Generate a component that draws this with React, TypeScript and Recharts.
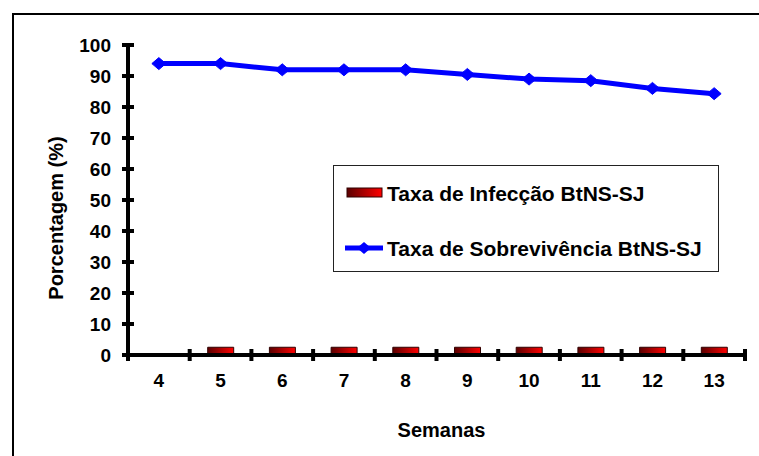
import React from 'react';
import { ComposedChart, Bar, Line, XAxis, YAxis, Legend } from 'recharts';

const weeks = ['4', '5', '6', '7', '8', '9', '10', '11', '12', '13'];
const infectionRate = [null, 2.5, 2.5, 2.5, 2.5, 2.5, 2.5, 2.5, 2.5, 2.5];
const survivalRate = [94, 94, 92, 92, 92, 90.5, 89, 88.5, 86, 84.3];
const yTicks = [0, 10, 20, 30, 40, 50, 60, 70, 80, 90, 100];

const infectionName = 'Taxa de Infecção BtNS-SJ';
const survivalName = 'Taxa de Sobrevivência BtNS-SJ';
const xTitle = 'Semanas';
const yTitle = 'Porcentagem (%)';

const data = weeks.map((w, i) => ({
  week: w,
  infection: infectionRate[i],
  survival: survivalRate[i],
}));

const FONT = '"Liberation Sans", Arial, sans-serif';
const CHART_W = 751;
const CHART_H = 448;
const Y_W = 120;
const M_R = 14;
const BAND = (CHART_W - Y_W - M_R) / weeks.length;

const YTick = (props: any) => {
  const { x, y, payload } = props;
  return (
    <g>
      <line x1={x - 6} x2={x + 6} y1={y} y2={y} stroke="#000" strokeWidth={4} />
      <text x={x - 17} y={y} dy="0.36em" textAnchor="end" fontFamily={FONT} fontWeight="bold" fontSize={19} fill="#000">
        {payload.value}
      </text>
    </g>
  );
};

const XTick = (props: any) => {
  const { x, y, payload, index, visibleTicksCount, width } = props;
  const band = width && visibleTicksCount ? width / visibleTicksCount : BAND;
  const half = band / 2;
  const last = index === (visibleTicksCount || weeks.length) - 1;
  return (
    <g>
      <line x1={x - half} x2={x - half} y1={y - 6} y2={y + 6} stroke="#000" strokeWidth={4} />
      {last && <line x1={x + half} x2={x + half} y1={y - 6} y2={y + 6} stroke="#000" strokeWidth={4} />}
      <text x={x} y={y + 32} textAnchor="middle" fontFamily={FONT} fontWeight="bold" fontSize={19} fill="#000">
        {payload.value}
      </text>
    </g>
  );
};

const Diamond = (props: any) => {
  const { cx, cy } = props;
  if (cx == null || cy == null) return null;
  return <polygon points={`${cx - 7},${cy} ${cx},${cy - 6} ${cx + 7},${cy} ${cx},${cy + 6}`} fill="#0000FF" stroke="#0000FF" strokeWidth={1} />;
};

const YLabel = (props: any) => {
  const vb = props.viewBox || {};
  const cx = (vb.x || 0) + 48;
  const cy = (vb.y || 0) + (vb.height || 0) / 2 + 18;
  return (
    <text x={cx} y={cy} transform={`rotate(-90, ${cx}, ${cy})`} textAnchor="middle" dominantBaseline="central" fontFamily={FONT} fontWeight="bold" fontSize={20} fill="#000">
      {yTitle}
    </text>
  );
};

const XLabel = (props: any) => {
  const vb = props.viewBox || {};
  const cx = (vb.x || 0) + (vb.width || 0) / 2 + 5;
  const cy = (vb.y || 0) + 82;
  return (
    <text x={cx} y={cy} textAnchor="middle" fontFamily={FONT} fontWeight="bold" fontSize={20} fill="#000">
      {xTitle}
    </text>
  );
};

const LegendBox = () => (
  <div style={{ width: 386, height: 107, border: '1px solid #222', boxSizing: 'border-box', background: '#fff' }}>
    <svg width={384} height={105}>
      <defs>
        <linearGradient id="legGrad" x1="0" y1="0" x2="1" y2="0">
          <stop offset="0%" stopColor="#5a0000" />
          <stop offset="100%" stopColor="#ff0000" />
        </linearGradient>
      </defs>
      <rect x={13} y={22} width={35} height={9} fill="url(#legGrad)" stroke="#300000" strokeWidth={1} />
      <text x={53} y={27} dy="0.36em" fontFamily={FONT} fontWeight="bold" fontSize={21} fill="#000">
        {infectionName}
      </text>
      <line x1={11} x2={49} y1={82} y2={82} stroke="#0000FF" strokeWidth={5} />
      <polygon points="23,82 30,76 37,82 30,88" fill="#0000FF" />
      <text x={53} y={82} dy="0.36em" fontFamily={FONT} fontWeight="bold" fontSize={21} fill="#000">
        {survivalName}
      </text>
    </svg>
  </div>
);

export default function App() {
  return (
    <div style={{ position: 'absolute', left: 8, top: 8, width: CHART_W, height: CHART_H, overflow: 'hidden', background: '#fff' }}>
      <div style={{ position: 'absolute', left: 4, top: 5, width: 800, height: 500, borderLeft: '2px solid #000', borderTop: '2px solid #000' }} />
      <div style={{ position: 'absolute', left: 0, top: 0 }}>
        <ComposedChart width={CHART_W} height={CHART_H} data={data} margin={{ top: 37, right: M_R, left: 0, bottom: 0 }}>
          <defs>
            <linearGradient id="barGrad" x1="0" y1="0" x2="1" y2="0">
              <stop offset="0%" stopColor="#5a0000" />
              <stop offset="100%" stopColor="#ff0000" />
            </linearGradient>
          </defs>
          <YAxis
            type="number"
            domain={[0, 100]}
            ticks={yTicks}
            interval={0}
            width={Y_W}
            tickSize={0}
            tickMargin={0}
            tickLine={false}
            axisLine={{ stroke: '#000', strokeWidth: 4 }}
            tick={<YTick />}
            label={<YLabel />}
          />
          <XAxis
            dataKey="week"
            type="category"
            height={101}
            interval={0}
            tickSize={0}
            tickMargin={0}
            tickLine={false}
            axisLine={{ stroke: '#000', strokeWidth: 4 }}
            tick={<XTick />}
            label={<XLabel />}
          />
          <Legend
            layout="horizontal"
            align="center"
            verticalAlign="middle"
            content={() => <LegendBox />}
            wrapperStyle={{ left: 325, top: 157, width: 386, height: 107 }}
          />
          <Bar dataKey="infection" name={infectionName} barSize={26} fill="url(#barGrad)" stroke="#300000" strokeWidth={1} isAnimationActive={false} />
          <Line dataKey="survival" name={survivalName} stroke="#0000FF" strokeWidth={5} dot={<Diamond />} activeDot={false} isAnimationActive={false} />
        </ComposedChart>
      </div>
    </div>
  );
}
